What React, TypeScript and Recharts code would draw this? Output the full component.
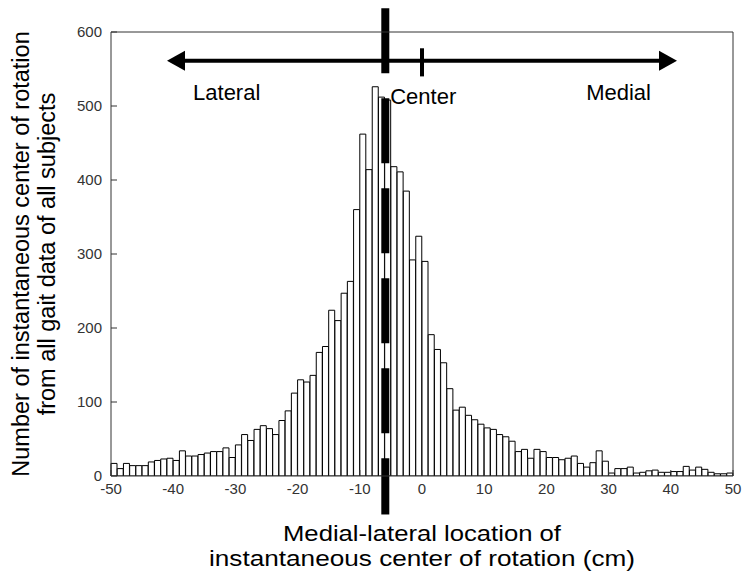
import React from 'react';
import { BarChart, Bar, XAxis, YAxis, ReferenceLine, ReferenceDot } from 'recharts';

// Bin start (cm) for each 1 cm histogram bin
const binStarts = [
  -50, -49, -48, -47, -46, -45, -44, -43, -42, -41,
  -40, -39, -38, -37, -36, -35, -34, -33, -32, -31,
  -30, -29, -28, -27, -26, -25, -24, -23, -22, -21,
  -20, -19, -18, -17, -16, -15, -14, -13, -12, -11,
  -10, -9, -8, -7, -6, -5, -4, -3, -2, -1,
  0, 1, 2, 3, 4, 5, 6, 7, 8, 9,
  10, 11, 12, 13, 14, 15, 16, 17, 18, 19,
  20, 21, 22, 23, 24, 25, 26, 27, 28, 29,
  30, 31, 32, 33, 34, 35, 36, 37, 38, 39,
  40, 41, 42, 43, 44, 45, 46, 47, 48, 49,
];

// Counts per bin
const counts = [
  17, 10, 17, 14, 14, 14, 19, 21, 23, 24,
  21, 34, 27, 27, 29, 31, 33, 33, 38, 25,
  42, 56, 48, 63, 68, 64, 56, 75, 88, 112,
  130, 127, 136, 167, 175, 224, 210, 247, 263, 360,
  462, 414, 526, 512, 508, 418, 411, 385, 292, 324,
  290, 191, 171, 153, 118, 89, 93, 82, 76, 70,
  65, 63, 56, 53, 47, 33, 36, 24, 36, 33,
  25, 25, 22, 24, 27, 17, 12, 18, 34, 20,
  4, 10, 10, 12, 4, 5, 7, 8, 5, 5,
  6, 6, 13, 8, 12, 9, 5, 3, 3, 4,
];

const xTicks = [-50, -40, -30, -20, -10, 0, 10, 20, 30, 40, 50];
const yTicks = [0, 100, 200, 300, 400, 500, 600];

const centerLineX = -5.9;
const centerLineSpan = [632, -52];
const arrowSpan = [-41, 41];
const arrowY = 561;
const zeroTickSpan = [578, 540];
const annotations = [
  { text: 'Lateral', x: -31.4, y: 519 },
  { text: 'Center', x: 0.2, y: 513 },
  { text: 'Medial', x: 31.6, y: 519 },
];

const data = binStarts.map((b, i) => ({ bin: b, center: b + 0.5, count: counts[i] }));

const FONT = 'Liberation Sans, Arial, Helvetica, sans-serif';
const AXIS = '#333';

const ArrowShape = (props: any) => {
  const { x1, y1, x2, y2 } = props;
  const head = 18;
  const half = 10;
  return (
    <g>
      <line x1={x1 + head - 2} y1={y1} x2={x2 - head + 2} y2={y2} stroke="#000" strokeWidth={4} />
      <polygon points={`${x1},${y1} ${x1 + head},${y1 - half} ${x1 + head},${y1 + half}`} fill="#000" />
      <polygon points={`${x2},${y2} ${x2 - head},${y2 - half} ${x2 - head},${y2 + half}`} fill="#000" />
    </g>
  );
};

const YTitle = (props: any) => {
  const vb = props.viewBox || {};
  const cy = vb.y + vb.height / 2;
  const x0 = vb.x || 0;
  return (
    <g>
      <text transform={`translate(${x0 + 21}, ${cy}) rotate(-90)`} textAnchor="middle" fontSize={23.5} fill="#000" fontFamily={FONT}>
        Number of instantaneous center of rotation
      </text>
      <text transform={`translate(${x0 + 47}, ${cy}) rotate(-90)`} textAnchor="middle" fontSize={23.5} fill="#000" fontFamily={FONT}>
        from all gait data of all subjects
      </text>
    </g>
  );
};

const XTitle = (props: any) => {
  const vb = props.viewBox || {};
  const cx = vb.x + vb.width / 2;
  return (
    <g>
      <text x={cx} y={vb.y + 65} textAnchor="middle" fontSize={22} fill="#000" fontFamily={FONT}
        textLength={278} lengthAdjust="spacingAndGlyphs">
        Medial-lateral location of
      </text>
      <text x={cx} y={vb.y + 90} textAnchor="middle" fontSize={22} fill="#000" fontFamily={FONT}
        textLength={426} lengthAdjust="spacingAndGlyphs">
        instantaneous center of rotation (cm)
      </text>
    </g>
  );
};

export default function App() {
  return (
    <BarChart
      width={742}
      height={566}
      data={data}
      margin={{ top: 23, right: 16, bottom: 0, left: 0 }}
      barCategoryGap={0}
      barGap={0}
      style={{ fontFamily: FONT }}
    >
      <XAxis xAxisId="cat" dataKey="bin" orientation="top" height={0} hide />
      <XAxis
        xAxisId="num"
        dataKey="center"
        type="number"
        domain={[-50, 50]}
        ticks={xTicks}
        interval={0}
        height={98}
        stroke={AXIS}
        tickSize={-6}
        tickMargin={13}
        tick={{ fontSize: 15, fill: '#333', fontFamily: FONT }}
        allowDataOverflow
        label={XTitle}
      />
      <XAxis
        xAxisId="top"
        dataKey="center"
        orientation="top"
        type="number"
        domain={[-50, 50]}
        ticks={xTicks}
        interval={0}
        height={1}
        stroke={AXIS}
        tickSize={-6}
        tick={false}
        allowDataOverflow
      />
      <YAxis
        yAxisId="left"
        domain={[0, 600]}
        ticks={yTicks}
        interval={0}
        width={103}
        stroke={AXIS}
        tickSize={-6}
        tickMargin={15}
        tick={{ fontSize: 15, fill: '#333', fontFamily: FONT }}
        allowDataOverflow
        label={YTitle}
      />
      <YAxis
        yAxisId="right"
        orientation="right"
        domain={[0, 600]}
        ticks={yTicks}
        interval={0}
        width={1}
        stroke={AXIS}
        tickSize={-6}
        tick={false}
        allowDataOverflow
      />
      <Bar
        xAxisId="cat"
        yAxisId="left"
        dataKey="count"
        fill="#fff"
        stroke="#000"
        strokeWidth={1}
        isAnimationActive={false}
      />
      <ReferenceLine
        xAxisId="num"
        yAxisId="left"
        segment={[{ x: arrowSpan[0], y: arrowY }, { x: arrowSpan[1], y: arrowY }]}
        ifOverflow="visible"
        shape={ArrowShape}
      />
      <ReferenceLine
        xAxisId="num"
        yAxisId="left"
        segment={[{ x: 0, y: zeroTickSpan[0] }, { x: 0, y: zeroTickSpan[1] }]}
        ifOverflow="visible"
        stroke="#000"
        strokeWidth={4}
      />
      <ReferenceLine
        xAxisId="num"
        yAxisId="left"
        segment={[{ x: centerLineX, y: centerLineSpan[0] }, { x: centerLineX, y: centerLineSpan[1] }]}
        ifOverflow="visible"
        stroke="#000"
        strokeWidth={8}
        strokeDasharray="65 25"
      />
      {annotations.map((a) => (
        <ReferenceDot
          key={a.text}
          xAxisId="num"
          yAxisId="left"
          x={a.x}
          y={a.y}
          r={0}
          fill="none"
          stroke="none"
          ifOverflow="visible"
          label={{ value: a.text, position: 'center', fontSize: 22, fill: '#000', fontFamily: FONT }}
        />
      ))}
    </BarChart>
  );
}
